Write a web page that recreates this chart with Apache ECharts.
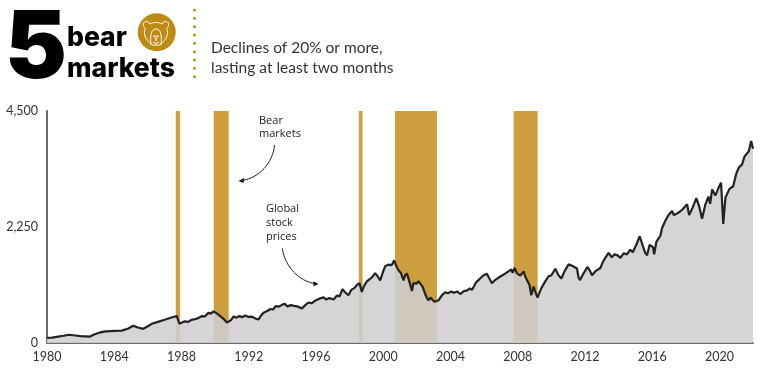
<!DOCTYPE html>
<html>
<head>
<meta charset="utf-8">
<script src="https://cdn.jsdelivr.net/npm/echarts@6/dist/echarts.min.js"></script>
<style>
  html, body { margin: 0; padding: 0; background: #fff; }
  #chart { width: 768px; height: 368px; }
</style>
</head>
<body>
<div id="chart"></div>
<script>
// values, [year, index]
const priceData = [
  [1980, 100], [1980.3, 105], [1980.65, 122], [1981, 140], [1981.3, 160], [1981.57, 150], [1982, 135], [1982.56, 125], [1982.8, 165],
  [1983.15, 205], [1983.5, 225], [1984, 235], [1984.45, 240], [1984.8, 275], [1985.14, 335], [1985.4, 300], [1985.73, 275], [1986, 325],
  [1986.23, 372], [1986.6, 410], [1987, 450], [1987.4, 495], [1987.72, 520], [1987.88, 375], [1988.2, 420], [1988.4, 410], [1988.61, 450],
  [1988.9, 470], [1989.2, 520], [1989.4, 515], [1989.6, 585], [1989.75, 570], [1989.9, 612], [1990.1, 575], [1990.25, 535], [1990.35, 500],
  [1990.5, 470], [1990.6, 500], [1990.7, 395], [1990.79, 415], [1990.95, 445], [1991.1, 515], [1991.25, 490], [1991.45, 525], [1991.6, 500],
  [1991.79, 535], [1992, 505], [1992.2, 510], [1992.4, 475], [1992.58, 455], [1992.75, 540], [1992.88, 585], [1993.1, 620], [1993.3, 660],
  [1993.45, 650], [1993.6, 715], [1993.8, 705], [1994, 745], [1994.15, 760], [1994.3, 710], [1994.5, 735], [1994.7, 720], [1994.95, 705],
  [1995.16, 670], [1995.35, 730], [1995.55, 785], [1995.75, 770], [1995.95, 820], [1996.2, 860], [1996.45, 885], [1996.6, 845], [1996.8, 870],
  [1997.05, 845], [1997.25, 920], [1997.4, 900], [1997.58, 1045], [1997.72, 990], [1997.93, 925], [1998.1, 1030], [1998.3, 1070], [1998.45, 1130],
  [1998.59, 1160], [1998.73, 990], [1998.85, 1100], [1999.03, 1195], [1999.2, 1240], [1999.35, 1280], [1999.52, 1355], [1999.68, 1290], [1999.82, 1215],
  [2000, 1390], [2000.12, 1490], [2000.3, 1520], [2000.5, 1510], [2000.65, 1600], [2000.8, 1480], [2000.91, 1410], [2001.05, 1360], [2001.21, 1215],
  [2001.3, 1310], [2001.41, 1350], [2001.55, 1200], [2001.71, 1010], [2001.8, 1160], [2001.9, 1195], [2002, 1150], [2002.1, 1200], [2002.2, 1195],
  [2002.35, 1090], [2002.5, 950], [2002.6, 870], [2002.7, 825], [2002.8, 880], [2002.9, 870], [2003.05, 800], [2003.14, 775], [2003.3, 830],
  [2003.5, 930], [2003.69, 985], [2003.85, 965], [2004.05, 1000], [2004.2, 975], [2004.4, 1000], [2004.58, 950], [2004.8, 1005], [2005, 1020],
  [2005.15, 1060], [2005.28, 1030], [2005.52, 1175], [2005.7, 1230], [2005.95, 1310], [2006.17, 1345], [2006.3, 1260], [2006.47, 1160], [2006.65, 1220],
  [2006.85, 1265], [2007.07, 1310], [2007.25, 1345], [2007.45, 1390], [2007.62, 1425], [2007.7, 1360], [2007.82, 1455], [2007.95, 1350], [2008.16, 1310],
  [2008.36, 1390], [2008.45, 1290], [2008.56, 1215], [2008.7, 1130], [2008.81, 925], [2008.95, 1095], [2009.05, 990], [2009.18, 880], [2009.4, 1060],
  [2009.64, 1195], [2009.85, 1300], [2010, 1310], [2010.24, 1440], [2010.42, 1320], [2010.6, 1250], [2010.8, 1400], [2011.03, 1525], [2011.3, 1490],
  [2011.53, 1445], [2011.62, 1270], [2011.7, 1220], [2011.9, 1340], [2012.16, 1475], [2012.3, 1400], [2012.42, 1315], [2012.65, 1400], [2012.92, 1455],
  [2013.05, 1560], [2013.21, 1650], [2013.41, 1750], [2013.6, 1660], [2013.75, 1720], [2013.95, 1700], [2014.11, 1650], [2014.3, 1740], [2014.5, 1720],
  [2014.7, 1810], [2014.85, 1760], [2015.05, 1900], [2015.26, 2070], [2015.45, 1880], [2015.6, 1740], [2015.7, 1700], [2015.85, 1905], [2016.05, 1860],
  [2016.12, 1720], [2016.25, 1960], [2016.49, 2080], [2016.59, 2230], [2016.8, 2380], [2016.95, 2470], [2017.18, 2560], [2017.3, 2480], [2017.58, 2530],
  [2017.8, 2590], [2018.08, 2690], [2018.2, 2480], [2018.4, 2620], [2018.63, 2810], [2018.8, 2650], [2018.97, 2410], [2019.17, 2690], [2019.35, 2840],
  [2019.45, 2700], [2019.57, 2980], [2019.76, 2860], [2019.95, 3010], [2020.1, 3110], [2020.2, 2500], [2020.23, 2310], [2020.36, 2820], [2020.6, 2990],
  [2020.82, 3040], [2021, 3280], [2021.15, 3400], [2021.35, 3465], [2021.5, 3620], [2021.75, 3720], [2021.89, 3920], [2022, 3770],
];
const bearStarts = [1987.66, 1989.92, 1998.55, 2000.7, 2007.76];
const bearEnds = [1987.92, 1990.81, 1998.77, 2003.2, 2009.19];

const font = 'Lato, sans-serif';
const headFont = 'Inter, sans-serif';
const noteFont = '"Open Sans", sans-serif';
const gold = '#cd9f3e';

const myChart = echarts.init(document.getElementById('chart'), null, { renderer: 'canvas' });

// one white stroke of the bear icon
const curve = (x1, y1, cpx1, cpy1, cpx2, cpy2, x2, y2) => ({
  type: 'bezierCurve',
  z: 11,
  shape: { x1, y1, cpx1, cpy1, cpx2, cpy2, x2, y2 },
  style: { stroke: '#fff', lineWidth: 1, fill: 'none' },
});
const bearIcon = [
  curve(150, 24, 153, 22, 159, 22, 162, 24),
  curve(150, 24, 148, 20, 142.5, 21, 143.5, 25.5),
  curve(143.5, 25.5, 143.7, 27, 144.5, 28, 145.5, 28.5),
  curve(162, 24, 164, 20, 169.5, 21, 168.5, 25.5),
  curve(168.5, 25.5, 168.3, 27, 167.5, 28, 166.5, 28.5),
  curve(145.5, 28.5, 143, 33, 145, 39, 152, 45),
  curve(166.5, 28.5, 169, 33, 167, 39, 160, 45),
  curve(151, 44.5, 150, 36, 151, 29, 156, 29),
  curve(161, 44.5, 162, 36, 161, 29, 156, 29),
  curve(152, 45, 154, 45, 158, 45, 160, 45),
  curve(153.5, 36, 155, 36, 157, 36, 158.5, 36),
  curve(153.5, 36, 154.5, 37, 155, 38, 156, 39),
  curve(158.5, 36, 157.5, 37, 157, 38, 156, 39),
  curve(156, 39, 156, 40, 156, 40, 156, 41),
  curve(153, 42, 155, 43.5, 157, 43.5, 159, 42),
];

const option = {
  animation: false,
  backgroundColor: '#fff',
  grid: { left: 47, right: 15, top: 111, bottom: 25 },
  xAxis: {
    type: 'value',
    min: 1980,
    max: 2022,
    interval: 4,
    axisLine: { show: true, lineStyle: { color: '#6b6b6b', width: 2 } },
    axisTick: { show: false },
    splitLine: { show: false },
    axisLabel: {
      color: '#333',
      fontFamily: font,
      fontSize: 12.5,
      margin: 7,
      showMaxLabel: false,
      formatter: (v) => String(v),
    },
  },
  yAxis: {
    type: 'value',
    min: 0,
    max: 4500,
    interval: 2250,
    axisLine: { show: true, lineStyle: { color: '#6b6b6b', width: 2 } },
    axisTick: { show: false },
    splitLine: { show: false },
    axisLabel: {
      color: '#333',
      fontFamily: font,
      fontSize: 12.5,
      margin: 9,
      formatter: (v) => v.toLocaleString('en-US'),
    },
  },
  series: [
    {
      type: 'line',
      z: 3,
      symbol: 'none',
      data: priceData,
      lineStyle: { color: '#222', width: 2.2 },
      // partly see-through so the gold shows faintly under the line
      areaStyle: { color: 'rgb(207,207,207)', opacity: 0.88 },
      markArea: {
        silent: true,
        z: 1,
        itemStyle: { color: gold },
        data: bearStarts.map((s, i) => [
          { xAxis: s, yAxis: 0 },
          { xAxis: bearEnds[i], yAxis: 4500 },
        ]),
      },
    },
  ],
  graphic: [
    { type: 'text', z: 10, x: 5, y: 50, style: { text: '5', font: '900 93px ' + headFont, fill: '#000', textVerticalAlign: 'middle' } },
    { type: 'text', z: 10, x: 67, y: 38, style: { text: 'bear', font: '800 26.5px ' + headFont, fill: '#000', textVerticalAlign: 'middle' } },
    { type: 'text', z: 10, x: 67, y: 69, style: { text: 'markets', font: '800 26.5px ' + headFont, fill: '#000', textVerticalAlign: 'middle' } },
    { type: 'circle', z: 10, shape: { cx: 156.7, cy: 32.3, r: 19 }, style: { fill: '#bf8a14' } },
    ...bearIcon,
    { type: 'line', z: 10, shape: { x1: 194.5, y1: 10, x2: 194.5, y2: 77 }, style: { stroke: '#c08a14', lineWidth: 3, lineCap: 'round', lineDash: [0, 8.33] } },
    { type: 'text', z: 10, x: 211, y: 48, style: { text: 'Declines of 20% or more,', font: '400 15.5px ' + font, fill: '#333', textVerticalAlign: 'middle' } },
    { type: 'text', z: 10, x: 211, y: 68, style: { text: 'lasting at least two months', font: '400 15.5px ' + font, fill: '#333', textVerticalAlign: 'middle' } },

    { type: 'text', z: 10, x: 259, y: 121, style: { text: 'Bear', font: '400 11px ' + noteFont, fill: '#222', textVerticalAlign: 'middle' } },
    { type: 'text', z: 10, x: 259, y: 134, style: { text: 'markets', font: '400 11px ' + noteFont, fill: '#222', textVerticalAlign: 'middle' } },
    { type: 'bezierCurve', z: 10, shape: { x1: 274.5, y1: 145, cpx1: 273, cpy1: 163, cpx2: 259, cpy2: 178, x2: 242, y2: 180.5 }, style: { stroke: '#222', lineWidth: 1, fill: 'none' } },
    { type: 'polygon', z: 10, shape: { points: [[238.5, 181], [244, 178], [243.5, 183]] }, style: { fill: '#111' } },

    { type: 'text', z: 10, x: 266, y: 209, style: { text: 'Global', font: '400 11px ' + noteFont, fill: '#222', textVerticalAlign: 'middle' } },
    { type: 'text', z: 10, x: 266, y: 223, style: { text: 'stock', font: '400 11px ' + noteFont, fill: '#222', textVerticalAlign: 'middle' } },
    { type: 'text', z: 10, x: 266, y: 237, style: { text: 'prices', font: '400 11px ' + noteFont, fill: '#222', textVerticalAlign: 'middle' } },
    { type: 'bezierCurve', z: 10, shape: { x1: 282.3, y1: 248.3, cpx1: 285, cpy1: 267, cpx2: 299, cpy2: 281, x2: 315, y2: 283.7 }, style: { stroke: '#222', lineWidth: 1, fill: 'none' } },
    { type: 'polygon', z: 10, shape: { points: [[318.5, 284], [313.5, 281.3], [313.5, 286.3]] }, style: { fill: '#111' } },
  ],
};

option && myChart.setOption(option);
</script>
</body>
</html>
